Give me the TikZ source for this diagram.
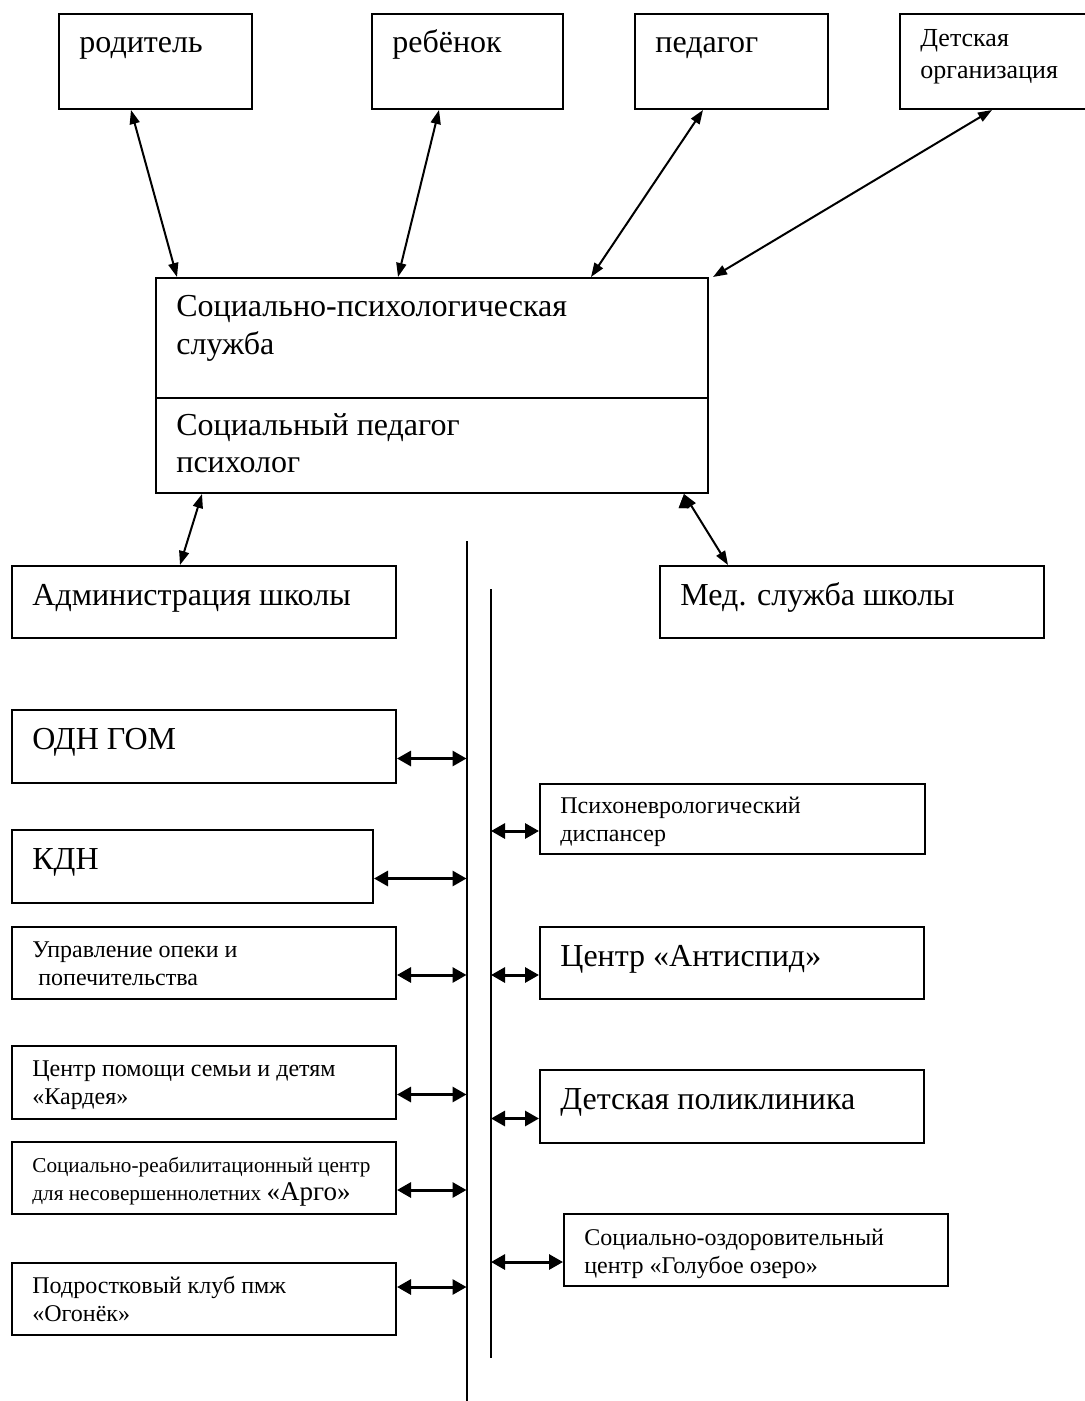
\documentclass[tikz,border=0pt]{standalone}
\usepackage{fontspec}
\setmainfont{Liberation Serif}
\usetikzlibrary{arrows.meta, calc}
\tikzset {
    x=0.5pt, y=-0.5pt,
    box/.style={draw, line width=1pt, anchor=north west, inner sep=0pt},
    bigtxt/.style={anchor=base west, xshift=10.5pt, yshift=-20pt, inner sep=0pt,
        align=left, font=\fontsize{16}{18.5}\selectfont},
    bigtwo/.style={bigtxt, yshift=-18.5pt},
    smalltxt/.style={anchor=base west, xshift=10.5pt, yshift=-15.75pt, inner sep=0pt,
        align=left, font=\fontsize{12}{14}\selectfont},
    smalltwo/.style={smalltxt, yshift=-14pt},
    link/.style={line width=1pt,
        {Triangle[length=7pt,width=5pt]}-{Triangle[length=7pt,width=5pt]}},
    hlink/.style={line width=1.5pt,
        {Triangle[length=7pt,width=7.5pt]}-{Triangle[length=7pt,width=7.5pt]}},
    bus/.style={line width=1pt}
}

\begin{document}
\begin{tikzpicture}
    \path[use as bounding box, clip] (0,0) rectangle (1085,1401);

    % top row
    \node[box, minimum width=96.5pt, minimum height=47.5pt, label={[bigtxt]north west:родитель}] (rod) at (58,13) {};
    \node[box, minimum width=95.5pt, minimum height=47.5pt, label={[bigtxt]north west:ребёнок}] (reb) at (371,13) {};
    \node[box, minimum width=96.5pt, minimum height=47.5pt, label={[bigtxt]north west:педагог}] (ped) at (634,13) {};
    \node[box, minimum width=100pt, minimum height=47.5pt,
        label={[smalltxt, yshift=-17.25pt, font=\fontsize{13}{16}\selectfont]north west:{Детская\\организация}}] (det) at (899,13) {};

    % service
    \node[box, minimum width=276pt, minimum height=60pt,
        label={[bigtwo]north west:{Социально-психологическая\\служба}}] (sps) at (155,277) {};
    \node[box, minimum width=276pt, minimum height=47.5pt,
        label={[bigtwo, yshift=1pt]north west:{Социальный педагог\\психолог}}] (spp) at (155,397) {};

    \node[box, minimum width=192pt, minimum height=36pt, label={[bigtxt]north west:Администрация школы}] (adm) at (11,565) {};
    \node[box, minimum width=192pt, minimum height=36pt, label={[bigtxt]north west:Мед. служба школы}] (med) at (659,565) {};

    % left column
    \node[box, minimum width=192pt, minimum height=36.5pt, label={[bigtxt]north west:ОДН ГОМ}] (odn) at (11,709) {};
    \node[box, minimum width=180.5pt, minimum height=36.5pt, label={[bigtxt]north west:КДН}] (kdn) at (11,829) {};
    \node[box, minimum width=192pt, minimum height=36pt,
        label={[smalltwo]north west:{Управление опеки и\\\hspace*{3pt}попечительства}}] (upr) at (11,926) {};
    \node[box, minimum width=192pt, minimum height=36.5pt,
        label={[smalltwo]north west:{Центр помощи семьи и детям\\«Кардея»}}] (cpd) at (11,1045) {};
    \node[box, minimum width=192pt, minimum height=36pt,
        label={[smalltwo, font=\fontsize{10.6}{14}\selectfont]north west:{Социально-реабилитационный центр\\для несовершеннолетних {\fontsize{13.5}{14}\selectfont\smash{«Арго»}}}}] (arg) at (11,1141) {};
    \node[box, minimum width=192pt, minimum height=36pt,
        label={[smalltwo]north west:{Подростковый клуб пмж\\«Огонёк»}}] (ogn) at (11,1262) {};

    % right column
    \node[box, minimum width=192.5pt, minimum height=35pt,
        label={[smalltwo, yshift=0.5pt]north west:{Психоневрологический\\диспансер}}] (pnd) at (539,783) {};
    \node[box, minimum width=192pt, minimum height=36pt, label={[bigtxt]north west:Центр «Антиспид»}] (aid) at (539,926) {};
    \node[box, minimum width=192pt, minimum height=36.5pt, label={[bigtxt]north west:Детская поликлиника}] (pol) at (539,1069) {};
    \node[box, minimum width=192pt, minimum height=36pt,
        label={[smalltwo, yshift=-0.5pt]north west:{Социально-оздоровительный\\центр «Голубое озеро»}}] (goz) at (563,1213) {};

    % bus lines
    \coordinate (lbusT) at (466.5,541);
    \coordinate (lbusB) at (466.5,1401);
    \coordinate (rbusT) at (491,589);
    \coordinate (rbusB) at (491,1358);
    \draw[bus] (lbusT) -- (lbusB) (rbusT) -- (rbusB);

    \draw[link]
    ($(rod.south west)+(73,0)$) edge ($(sps.north west)+(22,0)$)
    ($(reb.south west)+(68,0)$) edge ($(sps.north west)+(243,0)$)
    ($(ped.south west)+(69,0)$) edge ($(sps.north west)+(436,0)$)
    ($(det.south west)+(93,0)$) edge ($(sps.north east)+(4,0)$)
    ($(spp.south west)+(47,0)$) edge ($(adm.north west)+(169,0)$)
    ($(spp.south west)+(529,0)$) edge ($(med.north west)+(69,0)$);

    \draw[hlink] ([yshift=-6pt]odn.east) -- ([yshift=-6pt]odn.east -| lbusT);
    \draw[hlink] ([yshift=-6pt]kdn.east) -- ([yshift=-6pt]kdn.east -| lbusT);
    \draw[hlink] ([yshift=-6pt]upr.east) -- ([yshift=-6pt]upr.east -| lbusT);
    \draw[hlink] ([yshift=-6pt]cpd.east) -- ([yshift=-6pt]cpd.east -| lbusT);
    \draw[hlink] ([yshift=-6pt]arg.east) -- ([yshift=-6pt]arg.east -| lbusT);
    \draw[hlink] ([yshift=6pt]ogn.east) -- ([yshift=6pt]ogn.east -| lbusT);

    \draw[hlink] ([yshift=-6pt]pnd.west -| rbusT) -- ([yshift=-6pt]pnd.west);
    \draw[hlink] ([yshift=-6pt]aid.west -| rbusT) -- ([yshift=-6pt]aid.west);
    \draw[hlink] ([yshift=-6pt]pol.west -| rbusT) -- ([yshift=-6pt]pol.west);
    \draw[hlink] ([yshift=-6pt]goz.west -| rbusT) -- ([yshift=-6pt]goz.west);
\end{tikzpicture}
\end{document}
